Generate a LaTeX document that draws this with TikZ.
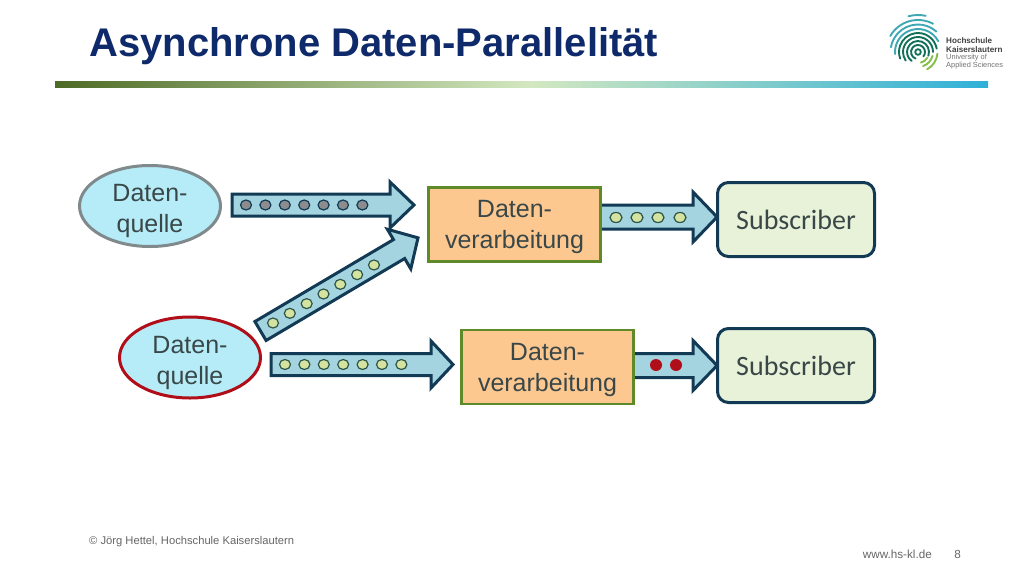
\documentclass[tikz,border=0pt]{standalone}
\usepackage{fontspec}
\setmainfont{Liberation Sans}
\newfontfamily\calfont{Carlito}
\usetikzlibrary{shapes.geometric}
\definecolor{navy}{HTML}{0F2A6B}
\definecolor{arrfill}{HTML}{A3D4E0}
\definecolor{arrline}{HTML}{123A55}
\definecolor{txt}{HTML}{3A4748}
\definecolor{bargreen}{HTML}{4D6B25}
\definecolor{barlight}{HTML}{D3E8C0}
\definecolor{barblue}{HTML}{2FB0D8}
\definecolor{lgdark}{HTML}{12705A}
\definecolor{lgteal}{HTML}{3FA8B4}
\definecolor{lglight}{HTML}{86BE4A}
\definecolor{srcfill}{HTML}{B5ECF7}
\definecolor{procfill}{HTML}{FCC890}
\definecolor{procline}{HTML}{5F8A2A}
\definecolor{subfill}{HTML}{E8F2D8}
\definecolor{dotgrey}{HTML}{8C8C8E}
\definecolor{dotgreen}{HTML}{D5E3A0}
\definecolor{dotline}{HTML}{2F5548}
\definecolor{dotred}{HTML}{B00E18}
\tikzset{
  blockarrow/.style={draw=arrline,fill=arrfill,line width=3pt,miter limit=10},
  srcnode/.style={ellipse,fill=srcfill,line width=3pt,minimum width=141pt,minimum height=81pt,inner sep=0pt},
  srctext/.style={align=center,inner sep=0pt,text=txt,font=\fontsize{25}{31}\selectfont,yshift=-5pt},
  procnode/.style={rectangle,draw=procline,fill=procfill,line width=2.6pt,minimum width=172pt,minimum height=74pt,inner sep=0pt},
  proctext/.style={align=center,inner sep=0pt,text=txt,font=\fontsize{25}{31}\selectfont,yshift=-2.5pt},
  subnode/.style={rectangle,rounded corners=11pt,draw=arrline,fill=subfill,line width=3pt,minimum width=157pt,minimum height=74pt,inner sep=0pt,text=txt,font=\calfont\fontsize{28}{32}\selectfont},
  greydot/.style={draw=arrline,fill=dotgrey,line width=1.2pt},
  greendot/.style={draw=dotline,fill=dotgreen,line width=1.2pt},
  reddot/.style={fill=dotred},
  lg/.style={line width=1.9pt,line cap=round},
  logotext/.style={anchor=west,inner sep=0pt,font=\fontsize{7.4}{8}\selectfont},
  logobold/.style={anchor=west,inner sep=0pt,font=\bfseries\fontsize{8.1}{9}\selectfont}
}
% #1 tail centre, #2 angle, #3 length, #4 half shaft, #5 head length, #6 half head
\newcommand{\blockarr}[6]{%
  \draw[blockarrow,shift={#1},rotate=#2] (0,#4) -- ({#3-#5},#4) -- ({#3-#5},#6) -- (#3,0)
    -- ({#3-#5},{-#6}) -- ({#3-#5},{-#4}) -- (0,{-#4}) -- cycle;}
\newcommand{\lgarc}[4]{\draw[#1,lg] (#2:#4) arc (#2:#3:#4);}
\begin{document}
\begin{tikzpicture}[x=1pt,y=-1pt]
\useasboundingbox (0,0) rectangle (1024,576);
\fill[white] (0,0) rectangle (1024,576);
% title
\node[anchor=base west,inner sep=0pt,text=navy,font=\bfseries\fontsize{40}{44}\selectfont] (title) at (89,56) {Asynchrone Daten-Parallelität};
% bar
\shade[left color=bargreen,right color=barlight] (55,81) rectangle (530,87);
\shade[left color=barlight,right color=barblue] (530,81) rectangle (988,87);
% logo
\begin{scope}[shift={(918,52)},y=1pt]
  \draw[lgdark,line width=1.8pt] (0,0) circle (2.8);
  \lgarc{lgdark}{-40}{250}{7}
  \lgarc{lgdark}{-20}{235}{11}
  \lgarc{lglight}{-75}{-30}{11}
  \lgarc{lgdark}{0}{215}{15}
  \lgarc{lglight}{-70}{-15}{15}
  \lgarc{lgdark}{10}{200}{19}
  \lgarc{lglight}{-62}{-5}{19.5}
  \lgarc{lgteal}{28}{185}{23}
  \lgarc{lgteal}{48}{170}{27.5}
  \lgarc{lgteal}{62}{150}{32}
  \lgarc{lgteal}{78}{105}{37}
\end{scope}
\node[logobold,text=black!75] (lg1) at (946,41) {Hochschule};
\node[logobold,text=black!75] (lg2) at (946,49.5) {Kaiserslautern};
\node[logotext,text=black!55] (lg3) at (946,58) {University of};
\node[logotext,text=black!55] (lg4) at (946,66) {Applied Sciences};
% arrows
\blockarr{(232,205)}{0}{182}{11}{24}{23}
\blockarr{(260.5,331)}{30.6}{183}{11}{22}{23}
\blockarr{(271,364.5)}{0}{182}{11}{22}{23.5}
\blockarr{(590,217)}{0}{127}{12}{24}{25}
\blockarr{(623,365.5)}{0}{94}{12}{24}{25}
% dots
\foreach \x in {0,...,6} \draw[greydot] ({246+\x*19.4},205) ellipse (5.5 and 5);
\foreach \x in {0,...,6} \draw[greendot] ({285+\x*19.4},364.5) ellipse (5.5 and 5);
\foreach \i in {0,...,6} \draw[greendot] ({273+\i*16.83},{323-\i*9.67}) ellipse (5.5 and 5);
\foreach \x in {616,637,658,680} \draw[greendot] (\x,217.5) ellipse (6 and 5);
\foreach \x in {656,676} \fill[reddot] (\x,365) circle (6);
% nodes
\node[srcnode,draw={rgb,255:red,128;green,138;blue,140}] (q1) at (150,206) {};
\node[srctext] (q1t) at (q1.center) {Daten-\\quelle};
\node[srcnode,draw={rgb,255:red,176;green,14;blue,24}] (q2) at (190,357.5) {};
\node[srctext] (q2t) at (q2.center) {Daten-\\quelle};
\node[procnode] (v1) at (514.5,224.5) {};
\node[proctext] (v1t) at (v1.center) {Daten-\\verarbeitung};
\node[procnode] (v2) at (547.5,367) {};
\node[proctext] (v2t) at (v2.center) {Daten-\\verarbeitung};
\node[subnode] (s1) at (796,219.5) {Subscriber};
\node[subnode] (s2) at (796,365.5) {Subscriber};
% footer
\node[anchor=west,inner sep=0pt,text=black!60,font=\fontsize{11.2}{14}\selectfont] (copy) at (89,542) {© Jörg Hettel, Hochschule Kaiserslautern};
\node[anchor=east,inner sep=0pt,text=black!60,font=\fontsize{11.7}{14}\selectfont] (web) at (932,554) {www.hs-kl.de};
\node[anchor=east,inner sep=0pt,text=black!60,font=\fontsize{11.7}{14}\selectfont] (pg) at (961,554) {8};
\end{tikzpicture}
\end{document}
